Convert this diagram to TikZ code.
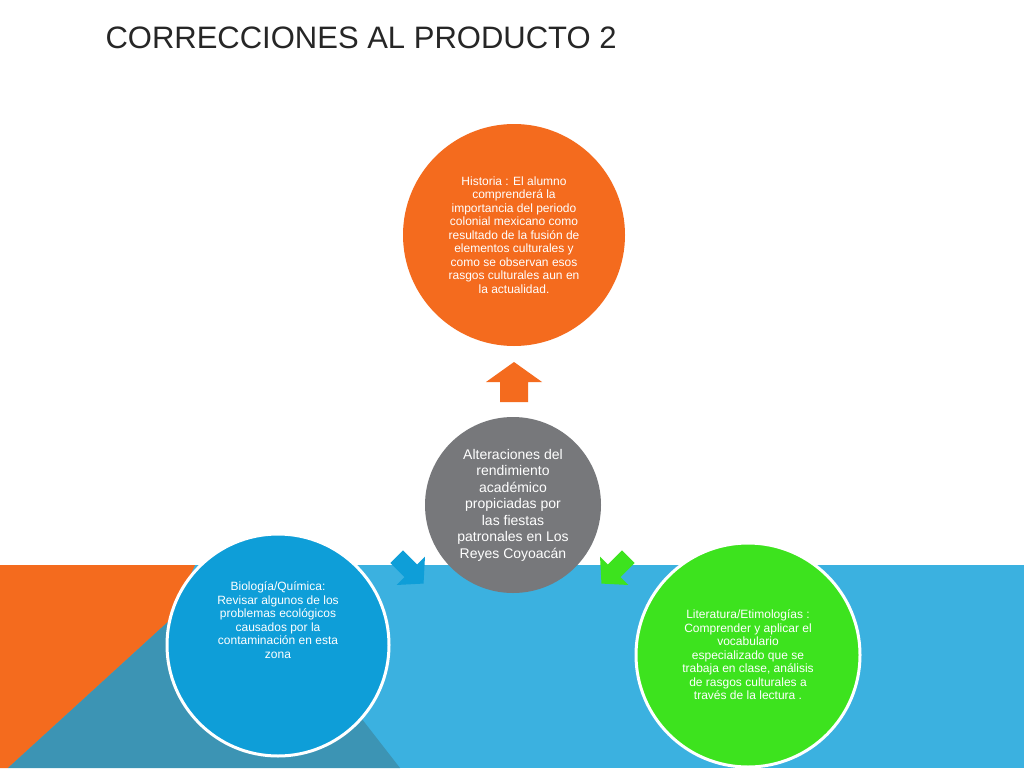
\documentclass[tikz,border=0pt]{standalone}
\usepackage{fontspec}
\setmainfont{Liberation Sans}
\definecolor{oran}{HTML}{F46B1E}
\definecolor{gr}{HTML}{77787B}
\definecolor{bl}{HTML}{0E9ED8}
\definecolor{lb}{HTML}{3BB1E0}
\definecolor{tl}{HTML}{3C94B4}
\definecolor{gn}{HTML}{3DE31E}
\begin{document}
\begin{tikzpicture}[x=1pt,y=-1pt,
  circ/.style={circle,inner sep=0pt,text=white,align=center,font=\fontsize{12}{13.5}\selectfont},
  fatarrow/.style={fill=#1}]
\useasboundingbox (0,0) rectangle (1024,768);
\fill[white] (0,0) rectangle (1024,768);
\fill[lb] (0,565) rectangle (1024,768);
\fill[oran] (0,565) -- (195,565) -- (170,620) -- (8,768) -- (0,768) -- cycle;
\fill[tl] (8,768) -- (170,620) -- (250,575) -- (400,768) -- cycle;
\node[anchor=west,font=\fontsize{31}{31}\selectfont,text=black!85] (title) at (102,38) {CORRECCIONES AL PRODUCTO 2};
\node[circ,fill=oran,minimum size=222pt] (hist) at (514,235) {Historia : El alumno\\comprenderá la\\importancia del periodo\\colonial mexicano como\\resultado de la fusión de\\elementos culturales y\\como se observan esos\\rasgos culturales aun en\\la actualidad.};
\node[circ,fill=gr,minimum size=176pt,font=\fontsize{14}{16.5}\selectfont] (cen) at (513,505) {Alteraciones del\\rendimiento\\académico\\propiciadas por\\las fiestas\\patronales en Los\\Reyes Coyoacán};
\node[circ,fill=bl,draw=white,line width=3pt,minimum size=222pt] (bio) at (278,645) {Biología/Química:\\Revisar algunos de los\\problemas ecológicos\\causados por la\\contaminación en esta\\zona\\[36pt]};
\node[circ,fill=gn,draw=white,line width=3pt,minimum size=224pt] (lit) at (748,655) {Literatura/Etimologías :\\Comprender y aplicar el\\vocabulario\\especializado que se\\trabaja en clase, análisis\\de rasgos culturales a\\través de la lectura .};
% up arrow
\coordinate (ua) at (514,382);
\fill[oran] (ua) ++(0,-20) -- ++(28,20) -- ++(-14,0) -- ++(0,20) -- ++(-28,0) -- ++(0,-20) -- ++(-14,0) -- cycle;
% blue arrow (down-left)
\coordinate (ba) at (408,568);
\fill[bl,rotate around={45:(ba)}] (ba) ++(0,22) -- ++(-20,-18) -- ++(11,0) -- ++(0,-20) -- ++(18,0) -- ++(0,20) -- ++(11,0) -- cycle;
% green arrow (down-right)
\coordinate (ga) at (617,568);
\fill[gn,rotate around={-45:(ga)}] (ga) ++(0,22) -- ++(-20,-18) -- ++(11,0) -- ++(0,-20) -- ++(18,0) -- ++(0,20) -- ++(11,0) -- cycle;
\end{tikzpicture}
\end{document}
